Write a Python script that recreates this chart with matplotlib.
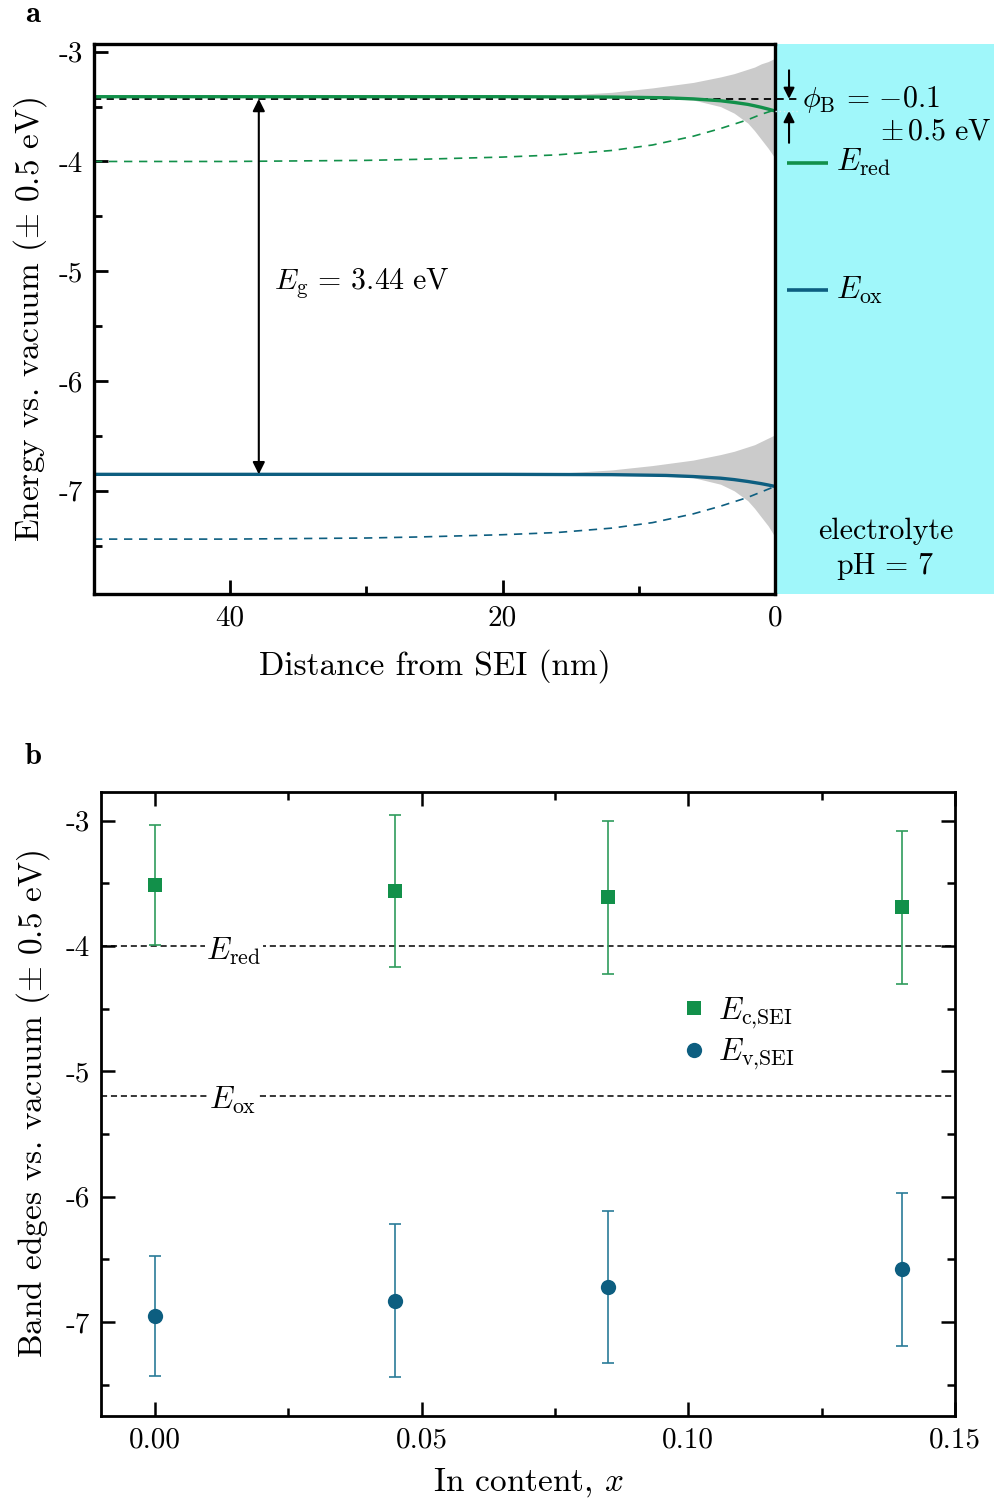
import numpy as np
import matplotlib
matplotlib.use("Agg")
import matplotlib.pyplot as plt
from matplotlib.lines import Line2D
from matplotlib.patches import Rectangle

plt.rcParams['font.family'] = 'serif'
plt.rcParams['font.serif'] = ['cmr10']
plt.rcParams['mathtext.fontset'] = 'cm'
plt.rcParams['axes.unicode_minus'] = False
plt.rcParams['axes.formatter.use_mathtext'] = True

GREEN = '#12904a'
BLUE = '#0d5e80'
GREEN_ERR = '#2f9c5c'
BLUE_ERR = '#2a7b98'
CYAN = '#a0f7fa'
GRAY = '#cbcbcb'

# ---------------- panel a data ----------------
dist_solid = [50, 30, 20, 12, 8, 6, 4, 3, 2, 1.5, 1, 0.5, 0]
ec_solid = [-3.41, -3.41, -3.41, -3.413, -3.42, -3.43, -3.447, -3.462, -3.48, -3.493, -3.507, -3.523, -3.54]
ev_solid = [-6.85, -6.85, -6.85, -6.853, -6.86, -6.87, -6.885, -6.898, -6.915, -6.925, -6.935, -6.947, -6.96]

dist_dash = [50, 40, 30, 26, 20, 16, 12, 9, 6, 4, 2, 1, 0]
ec_dash = [-4.00, -4.00, -3.99, -3.98, -3.96, -3.94, -3.90, -3.85, -3.77, -3.70, -3.62, -3.57, -3.53]
ev_dash = [-7.44, -7.44, -7.43, -7.42, -7.40, -7.38, -7.34, -7.29, -7.21, -7.14, -7.06, -7.01, -6.96]

dist_band = [20, 16, 12, 9, 6, 4, 3, 2, 1.5, 1, 0.5, 0]
ec_band_hi = [-3.41, -3.40, -3.37, -3.33, -3.28, -3.23, -3.20, -3.16, -3.14, -3.11, -3.09, -3.06]
ec_band_lo = [-3.41, -3.41, -3.415, -3.42, -3.44, -3.50, -3.56, -3.65, -3.72, -3.80, -3.88, -3.97]
ev_band_hi = [-6.85, -6.84, -6.81, -6.77, -6.72, -6.67, -6.64, -6.60, -6.58, -6.55, -6.52, -6.49]
ev_band_lo = [-6.85, -6.85, -6.855, -6.86, -6.88, -6.94, -7.00, -7.09, -7.16, -7.24, -7.32, -7.42]

flat_level = -3.43
eg_x = 37.9
eg_top = -3.43
eg_bottom = -6.85
eg_text = r'$E_{\mathrm{g}}\,=\,3.44\ \mathrm{eV}$'
phi_b_text = r'$\phi_{\mathrm{B}}\,=\,{-0.1}$'
phi_b_err_text = r'$\pm\, 0.5\ \mathrm{eV}$'

xticks_a = [40, 20, 0]
xticklabels_a = ['40', '20', '0']
yticks_a = [-3, -4, -5, -6, -7]
yticklabels_a = ['-3', '-4', '-5', '-6', '-7']

# ---------------- panel b data ----------------
in_content = [0.0, 0.045, 0.085, 0.14]
ec_sei = [-3.51, -3.56, -3.61, -3.69]
ec_err = [0.48, 0.61, 0.61, 0.61]
ev_sei = [-6.95, -6.83, -6.72, -6.58]
ev_err = [0.48, 0.61, 0.61, 0.61]
e_red = -4.0
e_ox = -5.2

xticks_b = [0.00, 0.05, 0.10, 0.15]
xticklabels_b = ['0.00', '0.05', '0.10', '0.15']
yticks_b = [-3, -4, -5, -6, -7]
yticklabels_b = ['-3', '-4', '-5', '-6', '-7']

fig = plt.figure(figsize=(9.95, 15.01), dpi=100)

TICK_FS = 21
LABEL_FS = 24
ANN_FS = 21.5

# ================= panel a =================
YLO, YHI = -7.94, -2.93
ax = fig.add_axes([94/995, 1-594/1501, (775-94)/995, (594-44)/1501])
ax.set_xlim(50, 0)
ax.set_ylim(YLO, YHI)

ax.fill_between(dist_band, ec_band_lo, ec_band_hi, color=GRAY, lw=0, zorder=1)
ax.fill_between(dist_band, ev_band_lo, ev_band_hi, color=GRAY, lw=0, zorder=1)

ax.plot([50, -1.8], [flat_level, flat_level], ls=(0, (4, 3)), color='black', lw=1.3,
        clip_on=False, zorder=2)
ax.plot([0, -1.8], [ec_solid[-1], ec_solid[-1]], ls=(0, (1, 2)), color='#d8f5f6', lw=1.0,
        clip_on=False, zorder=6)

ax.plot(dist_solid, ec_solid, color=GREEN, lw=2.4, zorder=3)
ax.plot(dist_solid, ev_solid, color=BLUE, lw=2.4, zorder=3)
ax.plot(dist_dash, ec_dash, color=GREEN, lw=1.2, ls=(0, (5, 4)), zorder=3)
ax.plot(dist_dash, ev_dash, color=BLUE, lw=1.2, ls=(0, (5, 4)), zorder=3)

# electrolyte region
ax.add_patch(Rectangle((0, YLO), -16.2, YHI - YLO, facecolor=CYAN, edgecolor='none',
                       clip_on=False, zorder=0.5))

# band gap arrow
ax.annotate('', xy=(eg_x, eg_bottom), xytext=(eg_x, eg_top),
            arrowprops=dict(arrowstyle='<|-|>', color='black', lw=1.5,
                            mutation_scale=18, shrinkA=0, shrinkB=0))
ax.text(36.8, -5.11, eg_text, fontsize=ANN_FS, va='center', ha='left')

# phi_B arrows
ax.annotate('', xy=(-1.03, flat_level), xytext=(-1.03, -3.17),
            arrowprops=dict(arrowstyle='-|>', color='black', lw=1.5, mutation_scale=16,
                            shrinkA=0, shrinkB=0), annotation_clip=False)
ax.annotate('', xy=(-1.03, ec_solid[-1]), xytext=(-1.03, -3.83),
            arrowprops=dict(arrowstyle='-|>', color='black', lw=1.5, mutation_scale=16,
                            shrinkA=0, shrinkB=0), annotation_clip=False)
ax.text(-2.0, -3.44, phi_b_text, fontsize=ANN_FS, ha='left', va='center', clip_on=False)
ax.text(-15.9, -3.73, phi_b_err_text, fontsize=ANN_FS, ha='right', va='center', clip_on=False)

# inline legend
ax.plot([-0.9, -3.9], [-4.01, -4.01], color=GREEN, lw=2.6, clip_on=False, solid_capstyle='butt')
ax.text(-4.5, -4.01, r'$E_{\mathrm{red}}$', fontsize=ANN_FS + 1, ha='left', va='center')
ax.plot([-0.9, -3.9], [-5.17, -5.17], color=BLUE, lw=2.6, clip_on=False, solid_capstyle='butt')
ax.text(-4.5, -5.17, r'$E_{\mathrm{ox}}$', fontsize=ANN_FS + 1, ha='left', va='center')

ax.text(-8.1, -7.37, 'electrolyte', fontsize=ANN_FS, ha='center', va='center')
ax.text(-8.1, -7.69, r'$\mathrm{pH}\,=\,7$', fontsize=ANN_FS, ha='center', va='center')

ax.set_xticks(xticks_a)
ax.set_xticklabels(xticklabels_a)
ax.set_xticks([30, 10], minor=True)
ax.set_yticks(yticks_a)
ax.set_yticklabels(yticklabels_a)
ax.set_yticks([-3.5, -4.5, -5.5, -6.5, -7.5], minor=True)
ax.tick_params(which='both', direction='in', top=False, right=False, labelsize=TICK_FS, width=2)
ax.tick_params(which='major', length=10, pad=8)
ax.tick_params(which='minor', length=6)
for s in ax.spines.values():
    s.set_linewidth(2.4)
    s.set_zorder(5)
ax.set_xlabel('Distance from SEI (nm)', fontsize=LABEL_FS, labelpad=13)
ax.set_ylabel(r'Energy vs. vacuum ($\pm$ 0.5 eV)', fontsize=LABEL_FS, labelpad=7)

fig.text(33/995, 1-15/1501, 'a', fontsize=22, family='cmb10', ha='center', va='center')

# ================= panel b =================
bx = fig.add_axes([101/995, 1-1416/1501, (955-101)/995, (1416-792)/1501])
bx.set_xlim(-0.0101, 0.15)
bx.set_ylim(-7.75, -2.77)

bx.axhline(e_red, color='black', ls=(0, (4, 2.5)), lw=1.1, zorder=1)
bx.axhline(e_ox, color='black', ls=(0, (4, 2.5)), lw=1.1, zorder=1)
bx.text(0.0148, e_red - 0.04, r'$E_{\mathrm{red}}$', fontsize=ANN_FS + 1, ha='center', va='center',
        bbox=dict(facecolor='white', edgecolor='none', pad=1), zorder=2)
bx.text(0.0146, e_ox - 0.03, r'$E_{\mathrm{ox}}$', fontsize=ANN_FS + 1, ha='center', va='center',
        bbox=dict(facecolor='white', edgecolor='none', pad=1), zorder=2)

bx.errorbar(in_content, ec_sei, yerr=ec_err, fmt='none', ecolor=GREEN_ERR, elinewidth=1.2,
            capsize=4.5, capthick=1.2, zorder=3)
bx.errorbar(in_content, ev_sei, yerr=ev_err, fmt='none', ecolor=BLUE_ERR, elinewidth=1.2,
            capsize=4.5, capthick=1.2, zorder=3)
bx.plot(in_content, ec_sei, 's', color=GREEN, ms=10, mew=0, zorder=4)
bx.plot(in_content, ev_sei, 'o', color=BLUE, ms=11, mew=0, zorder=4)

handles = [Line2D([], [], ls='none', marker='s', color=GREEN, ms=10, mew=0),
           Line2D([], [], ls='none', marker='o', color=BLUE, ms=11, mew=0)]
bx.legend(handles, [r'$E_{\mathrm{c{,}SEI}}$', r'$E_{\mathrm{v{,}SEI}}$'], frameon=False,
          fontsize=ANN_FS + 1, loc='center left', bbox_to_anchor=(0.647, 0.612),
          handlelength=0.8, handletextpad=0.35, labelspacing=0.2)

bx.set_xticks(xticks_b)
bx.set_xticklabels(xticklabels_b)
bx.set_xticks([0.025, 0.075, 0.125], minor=True)
bx.set_yticks(yticks_b)
bx.set_yticklabels(yticklabels_b)
bx.set_yticks([-3.5, -4.5, -5.5, -6.5, -7.5], minor=True)
bx.tick_params(which='both', direction='in', top=True, right=True, labelsize=TICK_FS, width=1.8)
bx.tick_params(which='major', length=10, pad=8)
bx.tick_params(which='minor', length=6)
for s in bx.spines.values():
    s.set_linewidth(2.0)
bx.set_xlabel(r'In content, $x$', fontsize=LABEL_FS, labelpad=9)
bx.set_ylabel(r'Band edges vs. vacuum ($\pm$ 0.5 eV)', fontsize=LABEL_FS, labelpad=10)

fig.text(33/995, 1-757/1501, 'b', fontsize=22, family='cmb10', ha='center', va='center')

fig.savefig('out.png', dpi=100)
